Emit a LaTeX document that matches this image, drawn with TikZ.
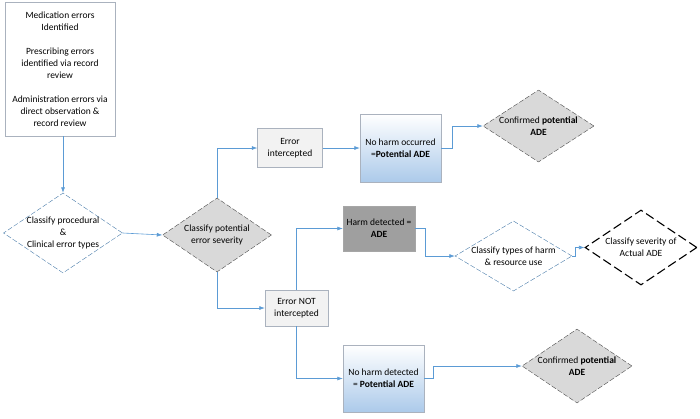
\documentclass[tikz,border=0pt]{standalone}
\usepackage{fontspec}
\setmainfont{Carlito}
\usepackage{xcolor}
\usepackage{tikz}
\usetikzlibrary{positioning, arrows.meta, shapes.geometric, calc}

\definecolor{flowblue}{RGB}{91,155,213}
\definecolor{paleblue}{RGB}{172,202,234}
\definecolor{edgegrey}{RGB}{170,178,190}

\begin{document}
\begin{tikzpicture}[
    x=1pt, y=-1pt,
    every node/.style={font=\fontsize{9.5}{12}\selectfont, align=center},
    flow/.style={flowblue, semithick, -{Latex[length=5.5pt, width=4pt]}},
    plain box/.style={draw=edgegrey, fill=gray!10, inner sep=2pt},
    ade box/.style={draw=edgegrey, top color=white, bottom color=paleblue, inner sep=2pt},
    harm box/.style={draw=gray!70, fill=gray!75, inner sep=2pt},
    decision/.style={diamond, aspect=1.5, inner sep=-4pt, fill=white}
]

\tikzset{
    blue dash/.style={decision, draw=flowblue!80!black, thin, dash pattern=on 5pt off 2pt},
    grey dash/.style={decision, draw=gray!60!black, thin, fill=gray!30, dash pattern=on 5pt off 2pt},
    black dash/.style={decision, draw=black, line width=1.1pt, dash pattern=on 9pt off 4pt}
}

\useasboundingbox (0,0) rectangle (700,418);

% --- 1. Source box ---
\node[draw=edgegrey, minimum width=110pt, minimum height=134pt] (src) at (60,69)
    {Medication errors\\Identified\\[12pt]
     Prescribing errors\\identified via record\\review\\[12pt]
     Administration errors via\\direct observation \&\\record review};

% --- 2. Classification diamonds ---
\node[blue dash, minimum width=119pt, minimum height=80pt] (proc) at (63,233)
    {Classify procedural\\\&\\Clinical error types};
\node[grey dash, minimum width=109pt, minimum height=74pt] (sev) at (217,235)
    {Classify potential\\error severity};

% --- 3. Intercepted branch ---
\node[plain box, minimum width=65pt, minimum height=39pt] (int) at (290,148)
    {Error\\intercepted};
\node[ade box, minimum width=81pt, minimum height=68pt] (occ) at (400.5,148)
    {No harm occurred\\=\textbf{Potential ADE}};
\node[grey dash, minimum width=111pt, minimum height=72pt] (conf1) at (538.5,126)
    {Confirmed \textbf{potential}\\\textbf{ADE}};

% --- 4. Not intercepted branch ---
\node[plain box, minimum width=63pt, minimum height=36pt] (notint) at (296.5,308)
    {Error NOT\\intercepted};
\node[harm box, minimum width=72pt, minimum height=45pt] (harm) at (379,228.5)
    {Harm detected =\\\textbf{ADE}};
\node[blue dash, minimum width=117pt, minimum height=70pt] (types) at (513.5,256)
    {Classify types of harm\\\& resource use};
\node[black dash, minimum width=112pt, minimum height=75pt] (sevact) at (641,247.5)
    {Classify severity of\\Actual ADE};
\node[ade box, minimum width=81pt, minimum height=67pt] (noharm) at (383.5,378.5)
    {No harm detected\\= \textbf{Potential ADE}};
\node[grey dash, minimum width=110pt, minimum height=74pt] (conf2) at (577,366)
    {Confirmed \textbf{potential}\\\textbf{ADE}};

% --- 5. Connectors ---
\draw[flow] (proc.north |- src.south) -- (proc.north);
\draw[flow] (proc.east) -- (sev.west);

\draw[flow] (sev.north) |- (int.west);
\draw[flow] (int.east) -- (occ.west);
\draw[flow] (occ.east) -- ++(11,0) |- (conf1.west);

\draw[flow] (sev.south) |- (notint.west);
\draw[flow] (notint.north) |- (harm.west);
\draw[flow] (harm.east) -- ++(10,0) |- (types.west);
\draw[flow] (types.east) -- ++(3,0) |- (sevact.west);

\draw[flow] (notint.south) |- (noharm.west);
\draw[flow] (noharm.east) -- ++(9,0) |- (conf2.west);

\end{tikzpicture}
\end{document}
